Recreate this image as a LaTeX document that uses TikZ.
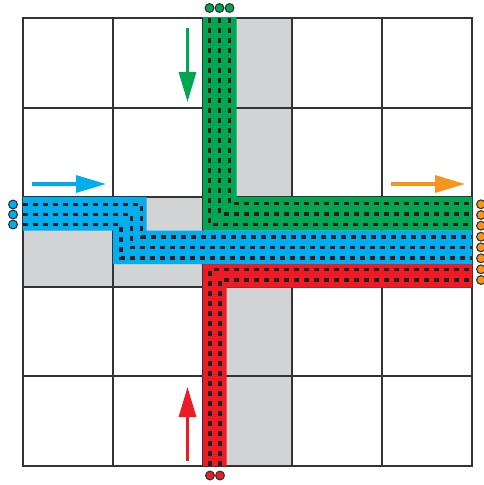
\documentclass[tikz,border=0pt]{standalone}
\usetikzlibrary{arrows.meta}
\definecolor{cgreen}{RGB}{0,166,81}
\definecolor{cblue}{RGB}{0,174,239}
\definecolor{cred}{RGB}{237,28,36}
\definecolor{corange}{RGB}{247,148,29}
\definecolor{cgray}{RGB}{209,211,212}
\definecolor{cgrid}{RGB}{51,51,51}
\definecolor{cdash}{RGB}{35,31,32}
\tikzset{
  gridline/.style={draw=cgrid, line width=1.4pt},
  lane/.style={draw=cdash, line width=3.2pt, dash pattern=on 5pt off 5pt},
  port/.style={circle, draw=cgrid, line width=1.1pt, minimum size=8.8pt, inner sep=0pt},
  flow/.style={line width=3.2pt, -{Triangle[length=30pt,width=17pt]}}
}
\begin{document}
\begin{tikzpicture}[x=1pt,y=-1pt]
\useasboundingbox (0,0) rectangle (483,485);
\fill[white] (0,0) rectangle (483,485);
% gray cross
\fill[cgray] (203,18) rectangle (292,466);
\fill[cgray] (23,197) rectangle (472,287);
% grid
\foreach \v in {113,203,292,382} \draw[gridline] (\v,18) -- (\v,466);
\foreach \v in {108,197,287,376} \draw[gridline] (23,\v) -- (472,\v);
\draw[gridline, line width=1.8pt] (23,18) rectangle (472,466);
% bands
\fill[cgreen] (203,17) -- (236.5,17) -- (236.5,197) -- (472,197) -- (472,230.5) -- (203,230.5) -- cycle;
\fill[cblue] (23,197) -- (146.5,197) -- (146.5,230.5) -- (472,230.5) -- (472,264) -- (113,264) -- (113,230.5) -- (23,230.5) -- cycle;
\fill[cred] (203,264) -- (472,264) -- (472,287.5) -- (226.5,287.5) -- (226.5,466) -- (203,466) -- cycle;
% lanes
\draw[lane] (209.5,18) -- (209.5,224.5) -- (472,224.5);
\draw[lane] (219.5,18) -- (219.5,214) -- (472,214);
\draw[lane] (229.5,18) -- (229.5,203.5) -- (472,203.5);
\draw[lane] (23,204.5) -- (141.5,204.5) -- (141.5,237) -- (472,237);
\draw[lane] (23,214.5) -- (131.5,214.5) -- (131.5,247.5) -- (472,247.5);
\draw[lane] (23,224.5) -- (121,224.5) -- (121,258) -- (472,258);
\draw[lane] (210,466) -- (210,269.5) -- (472,269.5);
\draw[lane] (220,466) -- (220,280) -- (472,280);
% ports
\foreach \x [count=\i] in {209.5,219.5,229.5} \node[port, fill=cgreen] (top\i) at (\x,8) {};
\foreach \x [count=\i] in {210,220} \node[port, fill=cred] (bot\i) at (\x,475.5) {};
\foreach \y [count=\i] in {204.5,214.5,224.5} \node[port, fill=cblue] (lft\i) at (13,\y) {};
\foreach \y [count=\i] in {204.3,215,225.7,236.7,247.3,258.3,269.3,280} \node[port, fill=corange] (rgt\i) at (481,\y) {};
% flow arrows
\coordinate (ga) at (187.5,28); \coordinate (gb) at (187.5,102);
\coordinate (ra) at (187.5,461); \coordinate (rb) at (187.5,387);
\coordinate (ba) at (32,184); \coordinate (bb) at (106,184);
\coordinate (oa) at (391,184); \coordinate (ob) at (465,184);
\draw[flow, draw=cgreen, fill=cgreen] (ga) -- (gb);
\draw[flow, draw=cred, fill=cred] (ra) -- (rb);
\draw[flow, draw=cblue, fill=cblue] (ba) -- (bb);
\draw[flow, draw=corange, fill=corange] (oa) -- (ob);
\end{tikzpicture}
\end{document}
